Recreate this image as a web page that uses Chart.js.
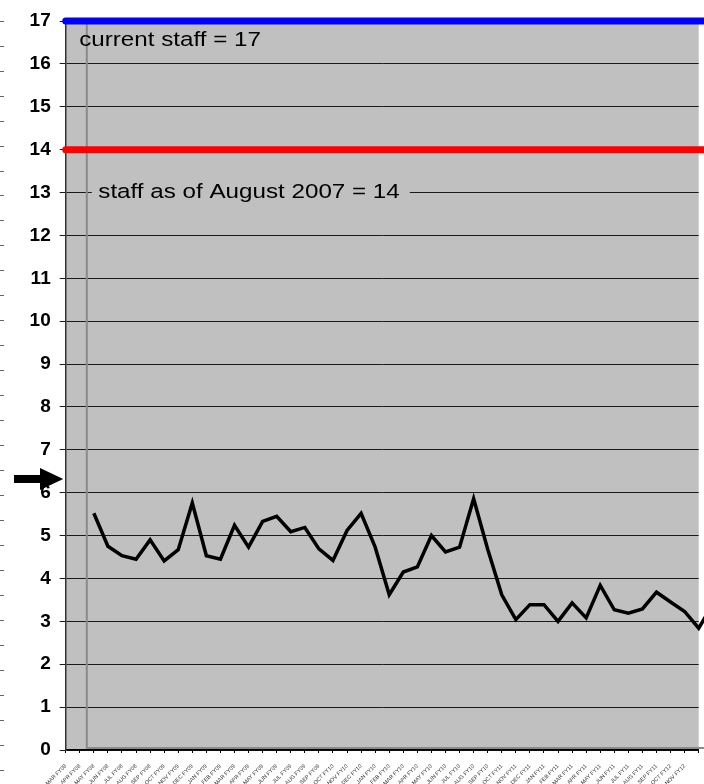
<!DOCTYPE html>
<html>
<head>
<meta charset="utf-8">
<script src="https://cdn.jsdelivr.net/npm/chart.js@4.4.1/dist/chart.umd.min.js"></script>
<style>
  html, body { margin: 0; padding: 0; background: #fff; overflow: hidden; }
  canvas { display: block; }
</style>
</head>
<body>
<canvas id="c" width="704" height="784"></canvas>
<script>
// ---- data ----
const CATEGORIES = [
  'MAR FY08','APR FY08','MAY FY08','JUN FY08','JUL FY08','AUG FY08','SEP FY08',
  'OCT FY09','NOV FY09','DEC FY09','JAN FY09','FEB FY09','MAR FY09','APR FY09','MAY FY09','JUN FY09','JUL FY09','AUG FY09','SEP FY09',
  'OCT FY10','NOV FY10','DEC FY10','JAN FY10','FEB FY10','MAR FY10','APR FY10','MAY FY10','JUN FY10','JUL FY10','AUG FY10','SEP FY10',
  'OCT FY11','NOV FY11','DEC FY11','JAN FY11','FEB FY11','MAR FY11','APR FY11','MAY FY11','JUN FY11','JUL FY11','AUG FY11','SEP FY11',
  'OCT FY12','NOV FY12','DEC FY12','JAN FY12'
];
const LAST_LABELED_INDEX = 44;   // last category whose label is printed
const AXIS_LAST_INDEX = 45;      // last tick drawn on the category axis

const STAFF_SERIES = [
  null, null, 5.52, 4.75, 4.53, 4.45, 4.90, 4.41, 4.67, 5.76,
  4.53, 4.45, 5.24, 4.73, 5.33, 5.45, 5.09, 5.19, 4.69, 4.42,
  5.12, 5.52, 4.73, 3.62, 4.15, 4.27, 5.00, 4.62, 4.73, 5.86,
  4.68, 3.62, 3.04, 3.39, 3.39, 3.00, 3.43, 3.08, 3.84, 3.27,
  3.19, 3.29, 3.68, 3.45, 3.23, 2.84, 3.40
];

const CURRENT_STAFF = 17;
const STAFF_AUG_2007 = 14;
const ARROW_LEVEL = 6.32;
const FRAME_START = 1.5;   // category position of the grey inner frame

const Y_TICK_MIN = 0, Y_TICK_MAX = 17, Y_TICK_STEP = 1;

const currentLine = CATEGORIES.map(() => CURRENT_STAFF);
const augustLine = CATEGORIES.map(() => STAFF_AUG_2007);

const FONT = "'Liberation Sans', Arial, sans-serif";

function stretchedText(ctx, text, x, y, size, sx) {
  ctx.save();
  ctx.translate(x, y);
  ctx.scale(sx, 1);
  ctx.font = size + 'px ' + FONT;
  ctx.fillStyle = '#000';
  ctx.textAlign = 'left';
  ctx.textBaseline = 'alphabetic';
  ctx.fillText(text, 0, 0);
  ctx.restore();
}

const decor = {
  id: 'decor',
  beforeDraw(chart) {
    const { ctx, chartArea: a } = chart;
    ctx.save();
    ctx.fillStyle = '#ffffff';
    ctx.fillRect(0, 0, chart.width, chart.height);
    ctx.fillStyle = '#C0C0C0';
    ctx.fillRect(a.left, a.top, a.right - a.left, a.bottom - a.top);
    ctx.restore();
  },
  beforeDatasetsDraw(chart) {
    const { ctx, chartArea: a, scales } = chart;
    const xs = scales.x, ys = scales.y;
    ctx.save();
    // grey inner frame
    const gx = xs.getPixelForValue(FRAME_START);
    ctx.strokeStyle = '#8a8a8a';
    ctx.lineWidth = 2;
    ctx.beginPath();
    ctx.moveTo(gx, a.top + 2);
    ctx.lineTo(gx, a.bottom - 2);
    ctx.lineTo(chart.width + 2, a.bottom - 2);
    ctx.stroke();
    // text box covering the gridline
    const y13 = ys.getPixelForValue(13);
    ctx.fillStyle = '#C0C0C0';
    ctx.fillRect(gx + 5, y13 - 13, 318, 27);
    ctx.restore();
  },
  afterDatasetsDraw(chart) {
    const { ctx, chartArea: a, scales } = chart;
    const xs = scales.x, ys = scales.y;
    const gx = xs.getPixelForValue(FRAME_START);
    stretchedText(ctx, 'current staff = ' + CURRENT_STAFF, a.left + 13.5, ys.getPixelForValue(16.42), 20.5, 1.18);
    stretchedText(ctx, 'staff as of August 2007 = ' + STAFF_AUG_2007, gx + 11.5, ys.getPixelForValue(12.88), 20.5, 1.18);

    // arrow pointing at the axis
    const ay = ys.getPixelForValue(ARROW_LEVEL);
    ctx.save();
    ctx.fillStyle = '#000';
    ctx.fillRect(14, ay - 4, 28, 8);
    ctx.beginPath();
    ctx.moveTo(40, ay - 11);
    ctx.lineTo(a.left - 2.5, ay);
    ctx.lineTo(40, ay + 11);
    ctx.closePath();
    ctx.fill();

    // small dashes on the far left edge
    ctx.strokeStyle = '#666';
    ctx.lineWidth = 1;
    for (let k = 0; k <= 30; k++) {
      const yy = Math.round(20.7 + k * 24.97) + 0.5;
      ctx.beginPath();
      ctx.moveTo(0, yy);
      ctx.lineTo(4, yy);
      ctx.stroke();
    }
    ctx.restore();
  }
};

new Chart(document.getElementById('c'), {
  type: 'line',
  data: {
    labels: CATEGORIES,
    datasets: [
      {
        label: 'current staff',
        data: currentLine,
        borderColor: '#0000FF',
        borderWidth: 7,
        borderCapStyle: 'round',
        pointRadius: 0,
        clip: false
      },
      {
        label: 'staff as of August 2007',
        data: augustLine,
        borderColor: '#FF0000',
        borderWidth: 7,
        borderCapStyle: 'round',
        pointRadius: 0,
        clip: false
      },
      {
        label: 'staff',
        data: STAFF_SERIES,
        borderColor: '#000000',
        borderWidth: 3.5,
        borderJoinStyle: 'miter',
        pointRadius: 0,
        tension: 0,
        spanGaps: false,
        clip: false
      }
    ]
  },
  options: {
    responsive: false,
    animation: false,
    devicePixelRatio: 1,
    layout: { padding: { top: 21, right: 5.3, left: 0, bottom: 0 } },
    plugins: {
      legend: { display: false },
      tooltip: { enabled: false },
      title: { display: false }
    },
    scales: {
      x: {
        type: 'category',
        offset: false,
        grid: {
          drawOnChartArea: false,
          drawTicks: true,
          tickLength: 3,
          color: '#000'
        },
        border: { display: true, color: '#000', width: 1.5 },
        ticks: {
          autoSkip: false,
          minRotation: 45,
          maxRotation: 45,
          padding: 10,
          color: '#333',
          font: { family: FONT, size: 5.5 },
          callback: function (value) {
            return value <= LAST_LABELED_INDEX ? this.getLabelForValue(value) : '';
          }
        },
        afterDataLimits(scale) { scale.min = 0; scale.max = AXIS_LAST_INDEX; },
        afterFit(scale) {
          scale.height = 34;
          scale.paddingRight = 0;
          scale.paddingLeft = 0;
        }
      },
      y: {
        min: Y_TICK_MIN,
        max: Y_TICK_MAX,
        grid: {
          color: '#1a1a1a',
          lineWidth: 1,
          tickLength: 6,
          drawTicks: true
        },
        border: { display: true, color: '#333', width: 1.5 },
        ticks: {
          stepSize: Y_TICK_STEP,
          padding: 9,
          color: '#000',
          font: { family: FONT, size: 19, weight: 'bold' }
        },
        afterFit(scale) {
          scale.width = 65.7;
          scale.paddingTop = 0;
          scale.paddingBottom = 0;
        }
      }
    }
  },
  plugins: [decor]
});
</script>
</body>
</html>
